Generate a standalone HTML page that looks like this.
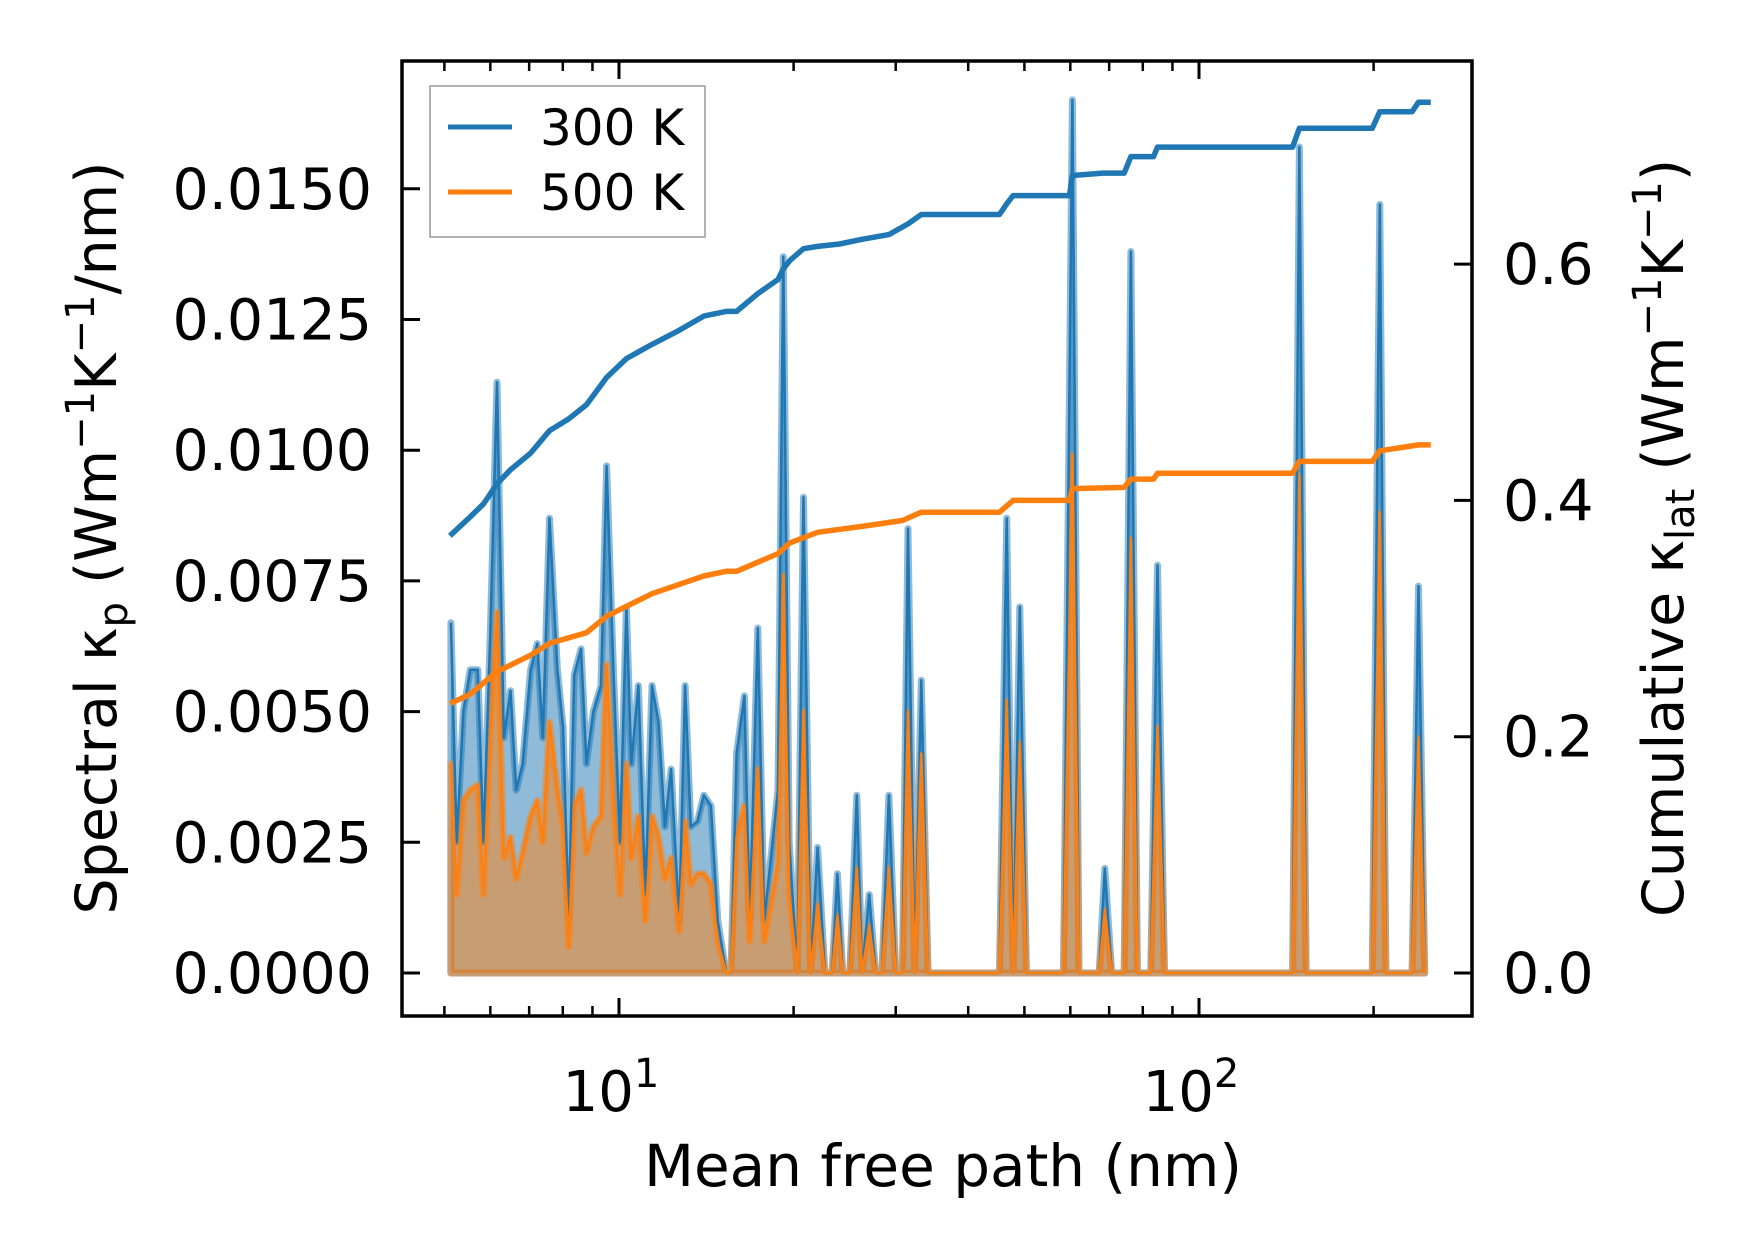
<!DOCTYPE html>
<html><head><meta charset="utf-8"><style>
html,body{margin:0;padding:0;background:#fff;}
svg{display:block;font-family:"DejaVu Sans","Liberation Sans",sans-serif;}
</style></head><body>
<svg id="chart" width="1753" height="1254" viewBox="0 0 1753 1254">
<g id="plot"></g>
<rect x="402" y="61" width="1070" height="955" fill="none" stroke="#000" stroke-width="3.5"/>
<g id="axes"></g>
<text x="943" y="1186" font-size="58" text-anchor="middle">Mean free path (nm)</text>
<text transform="translate(116,538) rotate(-90)" font-size="57" text-anchor="middle">Spectral κ<tspan font-size="40" dy="11">p</tspan><tspan dy="-11"> (Wm</tspan><tspan font-size="40" dy="-22">−1</tspan><tspan dy="22">K</tspan><tspan font-size="40" dy="-22">−1</tspan><tspan dy="22">/nm)</tspan></text>
<text transform="translate(1683,538) rotate(-90)" font-size="57" text-anchor="middle">Cumulative κ<tspan font-size="40" dy="11">lat</tspan><tspan dy="-11"> (Wm</tspan><tspan font-size="40" dy="-22">−1</tspan><tspan dy="22">K</tspan><tspan font-size="40" dy="-22">−1</tspan><tspan dy="22">)</tspan></text>
<g>
<rect x="430" y="86" width="275" height="151" fill="#fff" fill-opacity="0.8" stroke="#999" stroke-width="1.5"/>
<line x1="448" y1="127" x2="512" y2="127" stroke="#1f77b4" stroke-width="5"/>
<text x="540" y="145" font-size="50">300 K</text>
<line x1="448" y1="192" x2="512" y2="192" stroke="#ff7f0e" stroke-width="5"/>
<text x="540" y="210" font-size="50">500 K</text>
</g>
</svg>
<script>
const mfp = [5.13,5.25,5.39,5.54,5.71,5.84,6.00,6.16,6.33,6.50,6.65,6.82,7.04,7.23,7.39,7.59,7.83,8.01,8.19,8.37,8.60,8.79,9.03,9.31,9.52,9.78,10.04,10.3,10.5,10.8,11.1,11.4,11.7,12.0,12.3,12.7,13.0,13.3,13.65,14.0,14.4,14.8,15.3,15.6,15.95,16.45,16.8,17.35,17.8,18.2,18.8,19.2,19.65,20.3,20.8,21.4,22.0,22.65,23.3,23.8,24.3,25.0,25.7,26.25,27.0,27.7,28.4,29.2,30.0,30.8,31.5,32.35,33.2,34.1,45.3,46.6,47.8,49.1,50.4,58.4,60.5,62.1,67.3,68.8,70.7,74.3,76.3,78.3,82.6,84.8,87.2,145,149,153,199,205,210,233,239,245];
const spec300 = [0.0067,0.0025,0.0050,0.0058,0.0058,0.0025,0.0065,0.0113,0.0045,0.0054,
0.0035,0.0040,0.0058,0.0063,0.0045,0.0087,0.0058,0.0047,0.0010,0.0057,
0.0062,0.0040,0.0050,0.0055,0.0097,0.0058,0.0025,0.0070,0.0040,0.0055,
0.0015,0.0055,0.0048,0.0028,0.0039,0.0010,0.0055,0.0028,0.0029,0.0034,
0.0032,0.0010,0,0,0.0042,0.0053,0.0010,0.0066,0.0010,0.0020,
0.0035,0.0137,0.0025,0,0.0091,0,0.0024,0,0,0.0019,
0,0,0.0034,0,0.0015,0,0,0.0034,0,0,
0.0085,0,0.0056,0,
0,0.0087,0,0.0070,0,
0,0.0167,0,0,0.0020,0,0,0.0138,0,0,0.0078,0,0,0.0158,0,0,0.0147,0,0,0.0074,0];
const spec500 = [0.0040,0.0015,0.0033,0.0035,0.0036,0.0015,0.0045,0.0069,0.0022,0.0026,
0.0018,0.0023,0.0030,0.0033,0.0025,0.0048,0.0035,0.0028,0.0005,0.0032,
0.0035,0.0023,0.0028,0.0030,0.0059,0.0033,0.0015,0.0040,0.0022,0.0030,
0.0010,0.0030,0.0026,0.0018,0.0022,0.0008,0.0029,0.0017,0.0019,0.0019,
0.0017,0.0006,0,0,0.0026,0.0032,0.0006,0.0039,0.0006,0.0012,
0.0021,0.0076,0.0015,0,0.0050,0,0.0013,0,0,0.0011,
0,0,0.0020,0,0.0009,0,0,0.0020,0,0,
0.0050,0,0.0042,0,
0,0.0052,0,0.0044,0,
0,0.0099,0,0,0.0012,0,0,0.0083,0,0,0.0047,0,0,0.0095,0,0,0.0088,0,0,0.0045,0];
const cumX300 = [5.11,5.54,5.84,6.16,6.50,7.04,7.59,8.19,8.79,9.52,10.3,11.4,12.7,14.0,15.3,15.95,17.35,18.8,19.2,19.7,20.8,22.0,24.0,26.25,29.2,31.5,33.2,34.3,45.3,46.6,47.8,59.8,60.5,68.3,74.3,76.3,83.5,84.8,145,149,199,205,233,239,251];
const cum300 = [0.370,0.386,0.397,0.414,0.426,0.440,0.459,0.469,0.481,0.504,0.520,0.532,0.544,0.556,0.560,0.560,0.575,0.587,0.596,0.603,0.613,0.615,0.617,0.621,0.625,0.634,0.642,0.642,0.642,0.651,0.658,0.658,0.675,0.677,0.677,0.691,0.691,0.699,0.699,0.715,0.715,0.729,0.729,0.737,0.737];
const cumX500 = [5.11,5.54,6.16,7.04,7.59,8.79,9.52,11.4,14.0,15.3,15.95,18.8,19.7,22.0,26.25,30.8,33.2,45.3,47.8,59.8,60.5,74.3,76.3,83.5,84.8,145,149,199,205,239,251];
const cum500 = [0.228,0.236,0.255,0.269,0.279,0.288,0.302,0.321,0.336,0.340,0.340,0.355,0.364,0.373,0.378,0.383,0.390,0.390,0.400,0.400,0.410,0.411,0.418,0.418,0.423,0.423,0.433,0.433,0.442,0.447,0.447];
const leftTicks = [0,0.0025,0.005,0.0075,0.01,0.0125,0.015];
const leftTickLabels = ["0.0000","0.0025","0.0050","0.0075","0.0100","0.0125","0.0150"];
const rightTicks = [0,0.2,0.4,0.6];
const rightTickLabels = ["0.0","0.2","0.4","0.6"];
const xMajor = [10,100];
const xMajorExp = ["1","2"];
const xMinor = [5,6,7,8,9,20,30,40,50,60,70,80,90,200];

const NS = "http://www.w3.org/2000/svg";
const X0 = 619, DEC = 580;
function xs(m){ return X0 + DEC*(Math.log10(m)-1); }
function yl(v){ return 973 - v/0.0025*130.7; }
function yr(v){ return 973 - v/0.2*236.3; }
function mk(tag, attrs, parent){
  const e = document.createElementNS(NS, tag);
  for (const k in attrs) e.setAttribute(k, attrs[k]);
  parent.appendChild(e); return e;
}
const plot = document.getElementById('plot');
const axes = document.getElementById('axes');

function area(vals, color, name){
  let d = 'M' + xs(mfp[0]) + ',' + yl(0);
  for (let i=0;i<mfp.length;i++) d += ' L' + xs(mfp[i]).toFixed(1) + ',' + yl(vals[i]).toFixed(1);
  d += ' L' + xs(mfp[mfp.length-1]) + ',' + yl(0) + ' Z';
  const p = mk('path', {d:d, fill:color, 'fill-opacity':0.5, stroke:color, 'stroke-opacity':0.5, 'stroke-width':7, 'stroke-linejoin':'round'}, plot);
  
  
}
function line(xv, vals, fy, color, w, name){
  let d = '';
  for (let i=0;i<xv.length;i++) d += (i?' L':'M') + xs(xv[i]).toFixed(1) + ',' + fy(vals[i]).toFixed(1);
  const p = mk('path', {d:d, fill:'none', stroke:color, 'stroke-width':w, 'stroke-linejoin':'round'}, plot);
  
  
}
area(spec300, '#1f77b4', 'spectral-area-300k');
area(spec500, '#ff7f0e', 'spectral-area-500k');
line(mfp, spec300, yl, '#1f77b4', 2.5, 'spectral-line-300k');
line(mfp, spec500, yl, '#ff7f0e', 2.5, 'spectral-line-500k');
line(cumX300, cum300, yr, '#1f77b4', 5.5, 'cumulative-line-300k');
line(cumX500, cum500, yr, '#ff7f0e', 5.5, 'cumulative-line-500k');

leftTicks.forEach((v,i)=>{
  const y = yl(v);
  const t = mk('line', {x1:402, x2:420, y1:y, y2:y, stroke:'#000', 'stroke-width':3}, axes);
  
  
  const l = mk('text', {x:372, y:y+20, 'font-size':57, 'text-anchor':'end'}, axes);
  l.textContent = leftTickLabels[i];
  
  
});
rightTicks.forEach((v,i)=>{
  const y = yr(v);
  const t = mk('line', {x1:1454, x2:1472, y1:y, y2:y, stroke:'#000', 'stroke-width':3}, axes);
  
  
  const l = mk('text', {x:1503, y:y+20, 'font-size':57}, axes);
  l.textContent = rightTickLabels[i];
  
  
});
xMajor.forEach((v,i)=>{
  const x = xs(v);
  const t = mk('line', {x1:x, x2:x, y1:998, y2:1016, stroke:'#000', 'stroke-width':3}, axes);
  
  
  const l = mk('text', {x:x-8, y:1111, 'font-size':56, 'text-anchor':'middle'}, axes);
  
  
  l.appendChild(document.createTextNode('10'));
  const s = mk('tspan', {'font-size':40, dy:-24}, l);
  s.textContent = xMajorExp[i];
});
xMinor.forEach(v=>{
  const x = xs(v);
  const t = mk('line', {x1:x, x2:x, y1:1006, y2:1016, stroke:'#000', 'stroke-width':2.5}, axes);
  
  
});
xMajor.forEach(v=>{
  const x = xs(v);
  const t = mk('line', {x1:x, x2:x, y1:61, y2:79, stroke:'#000', 'stroke-width':3}, axes);
  
  
});
xMinor.forEach(v=>{
  const x = xs(v);
  const t = mk('line', {x1:x, x2:x, y1:61, y2:71, stroke:'#000', 'stroke-width':2.5}, axes);
  
  
});
</script>
</body></html>
